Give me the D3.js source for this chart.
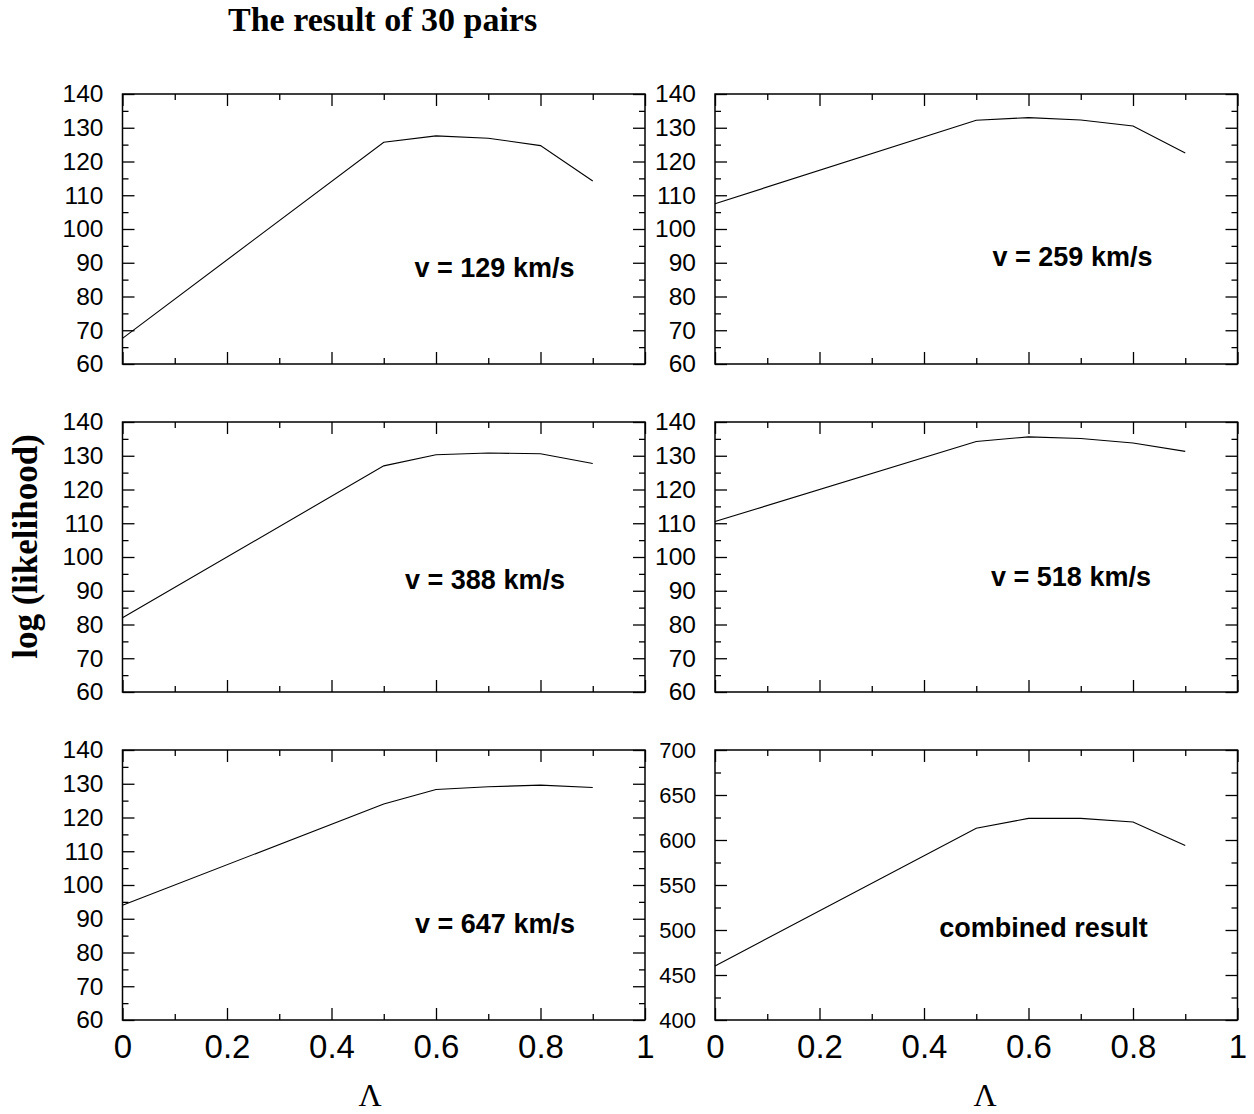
<!DOCTYPE html>
<html>
<head>
<meta charset="utf-8">
<script src="https://cdn.jsdelivr.net/npm/d3@7"></script>
<style>
  body { margin: 0; background: #fff; }
  svg { display: block; }
</style>
</head>
<body>
<svg id="chart" width="1254" height="1114"></svg>
<script>
// Lambda values at which the likelihood was evaluated
const lambda = [0, 0.5, 0.6, 0.7, 0.8, 0.9];

// log(likelihood) per velocity bin
const v129 = [67.6, 125.7, 127.6, 126.9, 124.7, 114.2];
const v259 = [107.5, 132.2, 133.0, 132.3, 130.5, 122.5];
const v388 = [82.0, 127.0, 130.3, 130.8, 130.6, 127.7];
const v518 = [110.5, 134.2, 135.6, 135.1, 133.8, 131.3];
const v647 = [94.0, 124.0, 128.3, 129.1, 129.6, 128.9];
const combined = [460.0, 613.0, 624.0, 624.0, 620.0, 594.0];

const panelLabels = ["v = 129 km/s", "v = 259 km/s", "v = 388 km/s",
                     "v = 518 km/s", "v = 647 km/s", "combined result"];
const xTickLabels = [0, 0.2, 0.4, 0.6, 0.8, 1];

const svg = d3.select("#chart");
const W = 522.5, H = 270;
const colX = [122.5, 715];
const rowY = [94, 422, 750];

const panels = [
  { values: v129,     label: panelLabels[0], col: 0, row: 0, domain: [60, 140], major: 10, minor: 5,  lx: 494.5, ly: 277, fs: 24.5 },
  { values: v259,     label: panelLabels[1], col: 1, row: 0, domain: [60, 140], major: 10, minor: 5,  lx: 1072.5, ly: 266, fs: 24.5 },
  { values: v388,     label: panelLabels[2], col: 0, row: 1, domain: [60, 140], major: 10, minor: 5,  lx: 485,   ly: 589, fs: 24.5 },
  { values: v518,     label: panelLabels[3], col: 1, row: 1, domain: [60, 140], major: 10, minor: 5,  lx: 1071,  ly: 586, fs: 24.5 },
  { values: v647,     label: panelLabels[4], col: 0, row: 2, domain: [60, 140], major: 10, minor: 5,  lx: 495,   ly: 933, fs: 24.5 },
  { values: combined, label: panelLabels[5], col: 1, row: 2, domain: [400, 700], major: 50, minor: 25, lx: 1043.5, ly: 937, fs: 22 }
];

const MAJ = 12, MIN = 6;

panels.forEach(p => {
  const x0 = colX[p.col], y0 = rowY[p.row];
  const g = svg.append("g").attr("transform", `translate(${x0},${y0})`);
  const x = d3.scaleLinear().domain([0, 1]).range([0, W]);
  const y = d3.scaleLinear().domain(p.domain).range([H, 0]);

  const xMajor = d3.range(0, 1.0001, 0.2);
  const xMinor = d3.range(0.1, 1, 0.2);
  const yMajor = d3.range(p.domain[0], p.domain[1] + 0.001, p.major);
  const yMinor = d3.range(p.domain[0] + p.minor, p.domain[1], p.major);

  const tickStyle = sel => {
    sel.select(".domain").remove();
    sel.selectAll("line").attr("stroke", "#000").attr("stroke-width", 1.3);
  };

  // inward ticks on all four sides
  [[xMajor, MAJ], [xMinor, MIN]].forEach(([vals, len]) => {
    g.append("g").attr("transform", `translate(0,${H})`)
      .call(d3.axisBottom(x).tickValues(vals).tickSize(-len).tickFormat(""))
      .call(tickStyle);
    g.append("g")
      .call(d3.axisTop(x).tickValues(vals).tickSize(-len).tickFormat(""))
      .call(tickStyle);
  });
  [[yMajor, MAJ], [yMinor, MIN]].forEach(([vals, len]) => {
    g.append("g")
      .call(d3.axisLeft(y).tickValues(vals).tickSize(-len).tickFormat(""))
      .call(tickStyle);
    g.append("g").attr("transform", `translate(${W},0)`)
      .call(d3.axisRight(y).tickValues(vals).tickSize(-len).tickFormat(""))
      .call(tickStyle);
  });

  // y tick labels
  const yl = g.append("g")
    .call(d3.axisLeft(y).tickValues(yMajor).tickSize(0).tickPadding(19).tickFormat(d3.format("d")));
  yl.select(".domain").remove();
  yl.selectAll("text")
    .attr("font-family", "'Liberation Sans', Arial, sans-serif")
    .attr("font-size", p.fs).attr("fill", "#000");

  // x tick labels on the bottom row
  if (p.row === 2) {
    const xl = g.append("g").attr("transform", `translate(0,${H})`)
      .call(d3.axisBottom(x).tickValues(xTickLabels).tickSize(0).tickPadding(15)
        .tickFormat(d => d3.format("")(+d.toFixed(1))));
    xl.select(".domain").remove();
    xl.selectAll("text")
      .attr("font-family", "'Liberation Sans', Arial, sans-serif")
      .attr("font-size", 33).attr("fill", "#000");
  }

  // frame
  g.append("rect").attr("width", W).attr("height", H)
    .attr("fill", "none").attr("stroke", "#000").attr("stroke-width", 1.5);

  // likelihood curve
  const line = d3.line().x((d, i) => x(lambda[i])).y(d => y(d));
  g.append("path").datum(p.values)
    .attr("d", line).attr("fill", "none")
    .attr("stroke", "#000").attr("stroke-width", 1.1);

  // panel annotation
  svg.append("text")
    .attr("x", p.lx).attr("y", p.ly)
    .attr("text-anchor", "middle")
    .attr("font-family", "'Liberation Sans', Arial, sans-serif")
    .attr("font-weight", "bold").attr("font-size", 27)
    .text(p.label);
});

// title
svg.append("text")
  .attr("x", 228).attr("y", 31)
  .attr("font-family", "'Liberation Serif', 'Times New Roman', serif")
  .attr("font-weight", "bold").attr("font-size", 34)
  .text("The result of 30 pairs");

// y-axis title
svg.append("text")
  .attr("transform", "translate(37,546.5) rotate(-90)")
  .attr("text-anchor", "middle")
  .attr("font-family", "'Liberation Serif', 'Times New Roman', serif")
  .attr("font-weight", "bold").attr("font-size", 35)
  .text("log (likelihood)");

// x-axis titles
[370, 985].forEach(cx => {
  svg.append("text")
    .attr("x", cx).attr("y", 1106)
    .attr("text-anchor", "middle")
    .attr("font-family", "'Liberation Serif', 'Times New Roman', serif")
    .attr("font-size", 32)
    .text("Λ");
});
</script>
</body>
</html>
